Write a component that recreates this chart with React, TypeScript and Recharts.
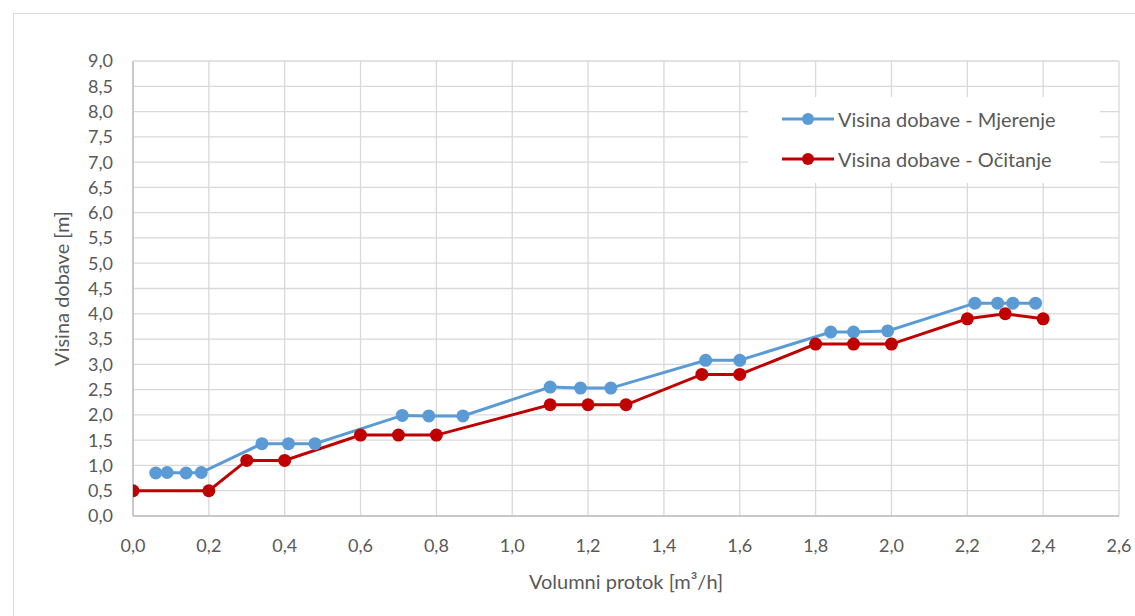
import { CartesianGrid, Legend, Line, LineChart, XAxis, YAxis } from "recharts";

const xTicks = [0, 0.2, 0.4, 0.6, 0.8, 1.0, 1.2, 1.4, 1.6, 1.8, 2.0, 2.2, 2.4, 2.6];
const yTicks = [0, 0.5, 1, 1.5, 2, 2.5, 3, 3.5, 4, 4.5, 5, 5.5, 6, 6.5, 7, 7.5, 8, 8.5, 9];

const mjerenjeX = [0.06, 0.09, 0.14, 0.18, 0.34, 0.41, 0.48, 0.71, 0.78, 0.87, 1.1, 1.18, 1.26, 1.51, 1.6, 1.84, 1.9, 1.99, 2.22, 2.28, 2.32, 2.38];
const mjerenjeY = [0.85, 0.86, 0.85, 0.86, 1.43, 1.43, 1.43, 1.99, 1.98, 1.98, 2.55, 2.53, 2.53, 3.08, 3.08, 3.64, 3.64, 3.66, 4.21, 4.21, 4.21, 4.21];

const ocitanjeX = [0, 0.2, 0.3, 0.4, 0.6, 0.7, 0.8, 1.1, 1.2, 1.3, 1.5, 1.6, 1.8, 1.9, 2.0, 2.2, 2.3, 2.4];
const ocitanjeY = [0.5, 0.5, 1.1, 1.1, 1.6, 1.6, 1.6, 2.2, 2.2, 2.2, 2.8, 2.8, 3.4, 3.4, 3.4, 3.9, 4.0, 3.9];

const mjerenje = mjerenjeX.map((x, i) => ({ x, y: mjerenjeY[i] }));
const ocitanje = ocitanjeX.map((x, i) => ({ x, y: ocitanjeY[i] }));

const BLUE = "#5b9bd5";
const RED = "#c00000";
const TEXT = "#595959";
const FONT = "Lato, 'Open Sans', sans-serif";

const fmt = (v: number) => v.toFixed(1).replace(".", ",");

function LegendBox({ payload }: any) {
  return (
    <div style={{ background: "#fff", width: 352, height: 86, padding: "2px 0 0 34px", boxSizing: "border-box" }}>
      {(payload || []).map((p: any) => (
        <div key={p.value} style={{ display: "flex", alignItems: "center", height: 40, fontFamily: FONT, fontSize: 20, color: TEXT }}>
          <svg width={52} height={14} style={{ marginRight: 4 }}>
            <line x1={0} y1={7} x2={52} y2={7} stroke={p.color} strokeWidth={3} />
            <circle cx={26} cy={7} r={6} fill={p.color} />
          </svg>
          {p.value}
        </div>
      ))}
    </div>
  );
}

export default function App() {
  return (
    <div style={{ position: "relative", width: 1135, height: 616, background: "#fff" }}>
      <style>{"body{margin:0}"}</style>
      <div style={{ position: "absolute", left: 13, top: 13, width: 1200, height: 700, border: "1px solid #d9d9d9" }} />
      <LineChart width={1135} height={616} margin={{ top: 61, right: 16, left: 0, bottom: 0 }} style={{ position: "absolute", left: 0, top: 0 }}>
        <CartesianGrid stroke="#d9d9d9" strokeWidth={1.3} />
        <XAxis
          type="number"
          dataKey="x"
          domain={[0, 2.6]}
          ticks={xTicks}
          tickFormatter={fmt}
          height={100}
          tickLine={false}
          tickSize={0}
          tickMargin={23}
          axisLine={{ stroke: "#bfbfbf", strokeWidth: 1.5 }}
          tick={{ fill: TEXT, fontSize: 18, fontFamily: FONT }}
          allowDataOverflow
          label={{ value: "Volumni protok [m³/h]", position: "insideBottom", offset: 27, fill: TEXT, fontSize: 20, fontFamily: FONT }}
        />
        <YAxis
          type="number"
          dataKey="y"
          domain={[0, 9]}
          ticks={yTicks}
          tickFormatter={fmt}
          width={133}
          tickLine={false}
          tickSize={0}
          tickMargin={20}
          axisLine={{ stroke: "#bfbfbf", strokeWidth: 1.5 }}
          tick={{ fill: TEXT, fontSize: 18, fontFamily: FONT }}
          interval={0}
          label={{ value: "Visina dobave [m]", angle: -90, position: "insideLeft", offset: 62, fill: TEXT, fontSize: 20, fontFamily: FONT, style: { textAnchor: "middle" } }}
        />
        <Legend
          layout="vertical"
          align="center"
          verticalAlign="middle"
          content={<LegendBox />}
          wrapperStyle={{ position: "absolute", left: 748, top: 97, width: 352, height: 86 }}
        />
        <Line
          data={mjerenje}
          dataKey="y"
          name="Visina dobave - Mjerenje"
          stroke={BLUE}
          strokeWidth={3}
          dot={{ r: 6.5, fill: BLUE, stroke: BLUE, strokeWidth: 0 }}
          isAnimationActive={false}
        />
        <Line
          data={ocitanje}
          dataKey="y"
          name="Visina dobave - Očitanje"
          stroke={RED}
          strokeWidth={3}
          dot={{ r: 6.5, fill: RED, stroke: RED, strokeWidth: 0 }}
          isAnimationActive={false}
        />
      </LineChart>
    </div>
  );
}
